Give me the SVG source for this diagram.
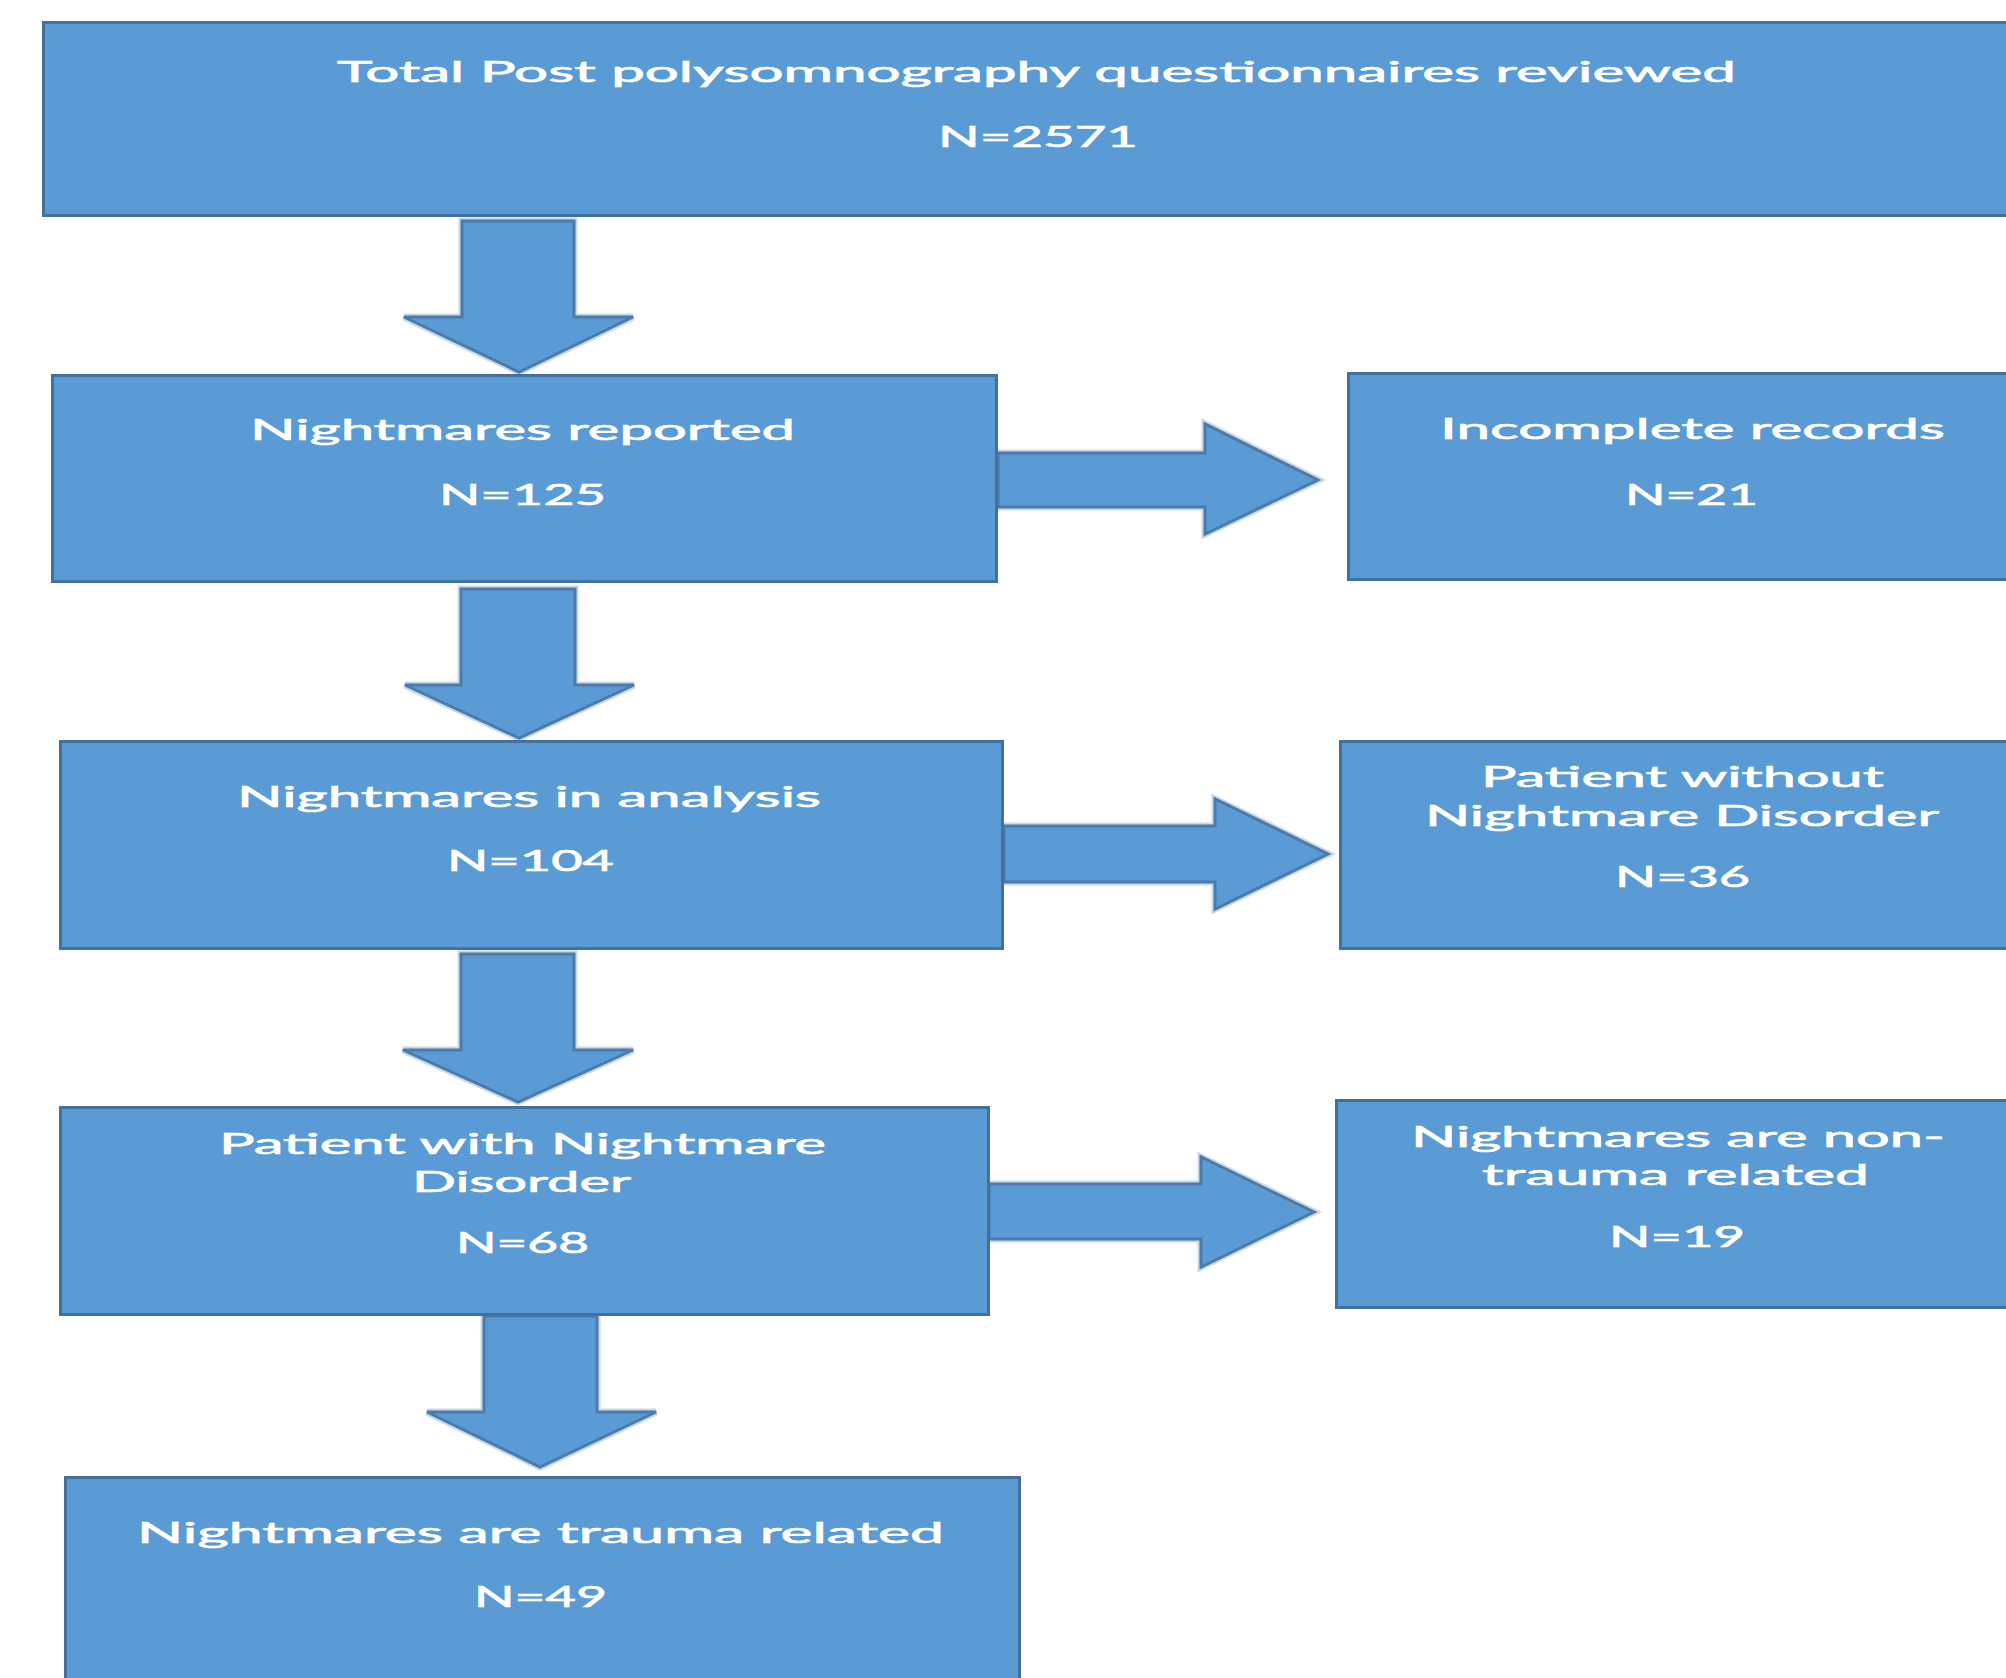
<svg xmlns="http://www.w3.org/2000/svg" width="2006" height="1678" viewBox="0 0 2006 1678">
<style>
.box{fill:#5B9BD5;stroke:#41719C;stroke-width:3}
.arr-glow{fill:none;stroke:#CAD7E4;stroke-width:7;stroke-linejoin:miter}
.arr{fill:#5B9BD5;stroke:#4A7BAA;stroke-width:3;stroke-linejoin:miter}
text{font-family:Lato,"Liberation Sans",sans-serif;font-size:28px;fill:#FFFFFF;stroke:#FFFFFF;stroke-width:0.6;text-anchor:start}
</style>
<rect width="2006" height="1678" fill="#FFFFFF"/>
<g id="connectors">
  <g id="arrow-total-reported">
    <path class="arr-glow" d="M462,221 L574,221 L574,317 L633,317 L519,372 L404,317 L462,317 Z"/>
    <path class="arr" d="M462,221 L574,221 L574,317 L633,317 L519,372 L404,317 L462,317 Z"/>
  </g>
  <g id="arrow-reported-analysis">
    <path class="arr-glow" d="M461,589 L575,589 L575,685 L634,685 L519,738 L405,685 L461,685 Z"/>
    <path class="arr" d="M461,589 L575,589 L575,685 L634,685 L519,738 L405,685 L461,685 Z"/>
  </g>
  <g id="arrow-analysis-with">
    <path class="arr-glow" d="M461,954 L574,954 L574,1050 L633,1050 L518,1102 L403,1050 L461,1050 Z"/>
    <path class="arr" d="M461,954 L574,954 L574,1050 L633,1050 L518,1102 L403,1050 L461,1050 Z"/>
  </g>
  <g id="arrow-with-trauma">
    <path class="arr-glow" d="M484,1316 L597,1316 L597,1412 L656,1412 L540,1467 L427,1412 L484,1412 Z"/>
    <path class="arr" d="M484,1316 L597,1316 L597,1412 L656,1412 L540,1467 L427,1412 L484,1412 Z"/>
  </g>
  <g id="arrow-reported-incomplete">
    <path class="arr-glow" d="M998,453 L1205,453 L1205,424 L1318,480 L1205,534 L1205,507 L998,507 Z"/>
    <path class="arr" d="M998,453 L1205,453 L1205,424 L1318,480 L1205,534 L1205,507 L998,507 Z"/>
  </g>
  <g id="arrow-analysis-without">
    <path class="arr-glow" d="M1004,826 L1215,826 L1215,799 L1328,854 L1215,909 L1215,882 L1004,882 Z"/>
    <path class="arr" d="M1004,826 L1215,826 L1215,799 L1328,854 L1215,909 L1215,882 L1004,882 Z"/>
  </g>
  <g id="arrow-with-nontrauma">
    <path class="arr-glow" d="M989,1184 L1201,1184 L1201,1157 L1314,1212 L1201,1267 L1201,1239 L989,1239 Z"/>
    <path class="arr" d="M989,1184 L1201,1184 L1201,1157 L1314,1212 L1201,1267 L1201,1239 L989,1239 Z"/>
  </g>
</g>
<g id="node-total">
  <rect class="box" x="43.5" y="22.5" width="1990" height="193"/>
  <text x="337" y="82" textLength="1399" lengthAdjust="spacingAndGlyphs">Total Post polysomnography questionnaires reviewed</text>
  <text x="938" y="147" textLength="200" lengthAdjust="spacingAndGlyphs">N=2571</text>
</g>
<g id="node-reported">
  <rect class="box" x="52.5" y="375.5" width="944" height="206"/>
  <text x="250" y="440" textLength="545" lengthAdjust="spacingAndGlyphs">Nightmares reported</text>
  <text x="439" y="505" textLength="167" lengthAdjust="spacingAndGlyphs">N=125</text>
</g>
<g id="node-incomplete">
  <rect class="box" x="1348.5" y="373.5" width="700" height="206"/>
  <text x="1440" y="439" textLength="505" lengthAdjust="spacingAndGlyphs">Incomplete records</text>
  <text x="1625" y="505" textLength="133" lengthAdjust="spacingAndGlyphs">N=21</text>
</g>
<g id="node-analysis">
  <rect class="box" x="60.5" y="741.5" width="942" height="207"/>
  <text x="237" y="807" textLength="584" lengthAdjust="spacingAndGlyphs">Nightmares in analysis</text>
  <text x="447" y="871" textLength="167" lengthAdjust="spacingAndGlyphs">N=104</text>
</g>
<g id="node-without">
  <rect class="box" x="1340.5" y="741.5" width="700" height="207"/>
  <text x="1481" y="787" textLength="403" lengthAdjust="spacingAndGlyphs">Patient without</text>
  <text x="1425" y="826" textLength="514" lengthAdjust="spacingAndGlyphs">Nightmare Disorder</text>
  <text x="1615" y="887" textLength="135" lengthAdjust="spacingAndGlyphs">N=36</text>
</g>
<g id="node-with">
  <rect class="box" x="60.5" y="1107.5" width="928" height="207"/>
  <text x="219" y="1154" textLength="607" lengthAdjust="spacingAndGlyphs">Patient with Nightmare</text>
  <text x="412" y="1192" textLength="219" lengthAdjust="spacingAndGlyphs">Disorder</text>
  <text x="456" y="1253" textLength="133" lengthAdjust="spacingAndGlyphs">N=68</text>
</g>
<g id="node-nontrauma">
  <rect class="box" x="1336.5" y="1100.5" width="700" height="207"/>
  <text x="1411" y="1147" textLength="534" lengthAdjust="spacingAndGlyphs">Nightmares are non-</text>
  <text x="1482" y="1185" textLength="387" lengthAdjust="spacingAndGlyphs">trauma related</text>
  <text x="1609" y="1247" textLength="136" lengthAdjust="spacingAndGlyphs">N=19</text>
</g>
<g id="node-trauma">
  <rect class="box" x="65.5" y="1477.5" width="954" height="230"/>
  <text x="137" y="1543" textLength="807" lengthAdjust="spacingAndGlyphs">Nightmares are trauma related</text>
  <text x="474" y="1607" textLength="133" lengthAdjust="spacingAndGlyphs">N=49</text>
</g>
</svg>
